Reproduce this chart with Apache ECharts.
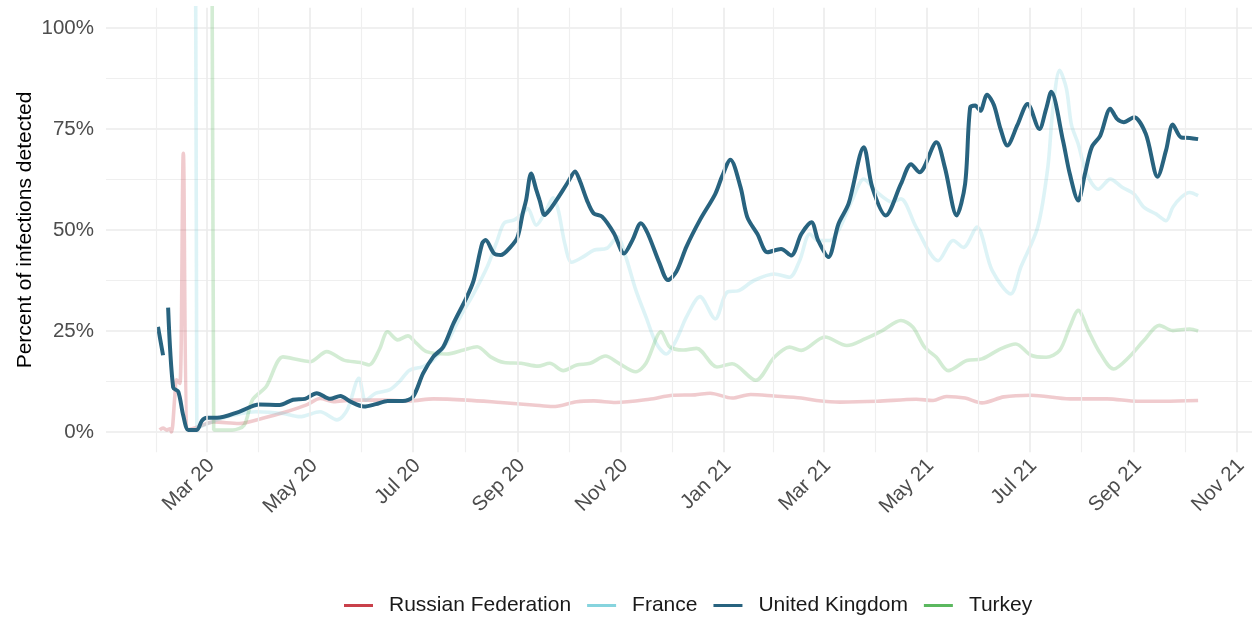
<!DOCTYPE html>
<html><head><meta charset="utf-8">
<script src="https://cdn.jsdelivr.net/npm/echarts@6/dist/echarts.min.js"></script>
<style>html,body{margin:0;padding:0;background:#fff}#chart{width:1252px;height:619px}</style>
</head><body><div id="chart"></div>
<script>
const seriesNames = ['Russian Federation', 'France', 'United Kingdom', 'Turkey'];
const seriesColors = ['#C9404A', '#86D4DE', '#28637F', '#5BB85F'];
const tickDates = ['2020-03-01','2020-05-01','2020-07-01','2020-09-01','2020-11-01','2021-01-01','2021-03-01','2021-05-01','2021-07-01','2021-09-01','2021-11-01'];
const tickLabels = ['Mar 20','May 20','Jul 20','Sep 20','Nov 20','Jan 21','Mar 21','May 21','Jul 21','Sep 21','Nov 21'];
const minorDates = ['2020-01-31','2020-03-31 12','2020-05-31 12','2020-08-01','2020-10-01 12','2020-12-01 12','2021-01-30 12','2021-03-31 12','2021-05-31 12','2021-08-01','2021-10-01 12'];

const russiaData = [['2020-02-02',0.5],['2020-02-04',1],['2020-02-06',0.5],['2020-02-08',0.8],['2020-02-09',0],['2020-02-11',9],['2020-02-12',12.9],['2020-02-14',12],['2020-02-16',69],['2020-02-19',0.5],['2020-02-25',1.3],['2020-03-05',2.5],['2020-03-20',2.1],['2020-04-03',3.4],['2020-04-17',5],['2020-04-29',6.7],['2020-05-07',8.3],['2020-05-15',7.5],['2020-05-25',7.9],['2020-06-13',7.9],['2020-06-29',7.7],['2020-07-13',8.2],['2020-08-02',7.9],['2020-08-22',7.3],['2020-09-10',6.7],['2020-09-22',6.3],['2020-10-06',7.5],['2020-10-16',7.7],['2020-10-29',7.3],['2020-11-18',8.1],['2020-12-02',9.1],['2020-12-15',9.2],['2020-12-24',9.6],['2021-01-06',8.4],['2021-01-17',9.3],['2021-01-31',8.9],['2021-02-16',8.4],['2021-02-25',7.8],['2021-03-11',7.4],['2021-04-02',7.6],['2021-04-25',8.1],['2021-05-05',7.8],['2021-05-13',8.8],['2021-05-24',8.4],['2021-06-03',7.2],['2021-06-16',8.7],['2021-07-02',9.1],['2021-07-25',8.2],['2021-08-16',8.2],['2021-09-03',7.6],['2021-09-19',7.6],['2021-10-09',7.8]];

const franceData = [['2020-02-19',200],['2020-02-23',150],['2020-02-24',1.3],['2020-02-27',1.5],['2020-03-07',3],['2020-03-17',4.2],['2020-03-30',5],['2020-04-15',4.6],['2020-04-25',3.8],['2020-05-07',5],['2020-05-17',3],['2020-05-23',5.4],['2020-05-30',13.3],['2020-06-03',7.9],['2020-06-09',9.6],['2020-06-17',10.4],['2020-06-23',12.5],['2020-06-29',15.3],['2020-07-07',16.2],['2020-07-13',17.8],['2020-07-21',22],['2020-07-29',28.5],['2020-08-06',34.3],['2020-08-14',40.9],['2020-08-20',47.5],['2020-08-24',51.7],['2020-08-30',52.5],['2020-09-04',54.1],['2020-09-07',55.3],['2020-09-12',51.2],['2020-09-18',55],['2020-09-22',58],['2020-09-25',55],['2020-09-29',46.5],['2020-10-03',42],['2020-10-10',43.4],['2020-10-16',45],['2020-10-24',45.5],['2020-10-30',48.3],['2020-11-04',43.4],['2020-11-10',35.1],['2020-11-16',28.5],['2020-11-22',22],['2020-11-28',19.3],['2020-12-04',22.8],['2020-12-10',28.5],['2020-12-18',33.5],['2020-12-27',28],['2021-01-03',34.6],['2021-01-10',35],['2021-01-19',37.5],['2021-01-31',39.1],['2021-02-09',38.3],['2021-02-15',42.4],['2021-02-21',49],['2021-02-26',47.4],['2021-03-05',47.4],['2021-03-11',50.7],['2021-03-18',57.3],['2021-03-25',62.6],['2021-04-02',59.3],['2021-04-11',56.9],['2021-04-16',57.7],['2021-04-25',50.7],['2021-05-08',42.4],['2021-05-17',47.4],['2021-05-23',45.7],['2021-05-31',50.7],['2021-06-09',40],['2021-06-20',34.2],['2021-06-26',40.8],['2021-07-06',50.7],['2021-07-12',65.5],['2021-07-15',80],['2021-07-19',89.5],['2021-07-23',85],['2021-07-26',76],['2021-07-30',71.3],['2021-08-04',63.9],['2021-08-11',60.1],['2021-08-18',62.6],['2021-08-25',60.6],['2021-09-01',58.9],['2021-09-07',55.6],['2021-09-14',54],['2021-09-20',52.3],['2021-09-24',55.6],['2021-09-29',58.1],['2021-10-04',59.3],['2021-10-09',58.5]];

const ukData = [['2020-02-01',26],['2020-02-04',19],['2020-02-06',null],['2020-02-07',30.8],['2020-02-10',11],['2020-02-13',10],['2020-02-16',4],['2020-02-19',0.5],['2020-02-24',0.5],['2020-02-27',2.8],['2020-03-01',3.5],['2020-03-07',3.5],['2020-03-20',5],['2020-04-01',6.8],['2020-04-13',6.7],['2020-04-21',8],['2020-04-28',8.2],['2020-05-05',9.6],['2020-05-13',8.2],['2020-05-19',8.9],['2020-05-25',7.5],['2020-06-02',6.3],['2020-06-09',6.9],['2020-06-16',7.7],['2020-06-25',7.7],['2020-07-01',8.7],['2020-07-07',14.5],['2020-07-13',18.6],['2020-07-19',21.1],['2020-07-25',26.9],['2020-08-02',33.5],['2020-08-06',37.6],['2020-08-11',46.7],['2020-08-13',47.5],['2020-08-18',44.2],['2020-08-22',43.8],['2020-08-28',45.9],['2020-09-01',48.3],['2020-09-04',54.1],['2020-09-06',57.4],['2020-09-09',64],['2020-09-12',60],['2020-09-14',57.4],['2020-09-17',53.7],['2020-09-20',55],['2020-09-24',57.4],['2020-09-28',60],['2020-10-01',62],['2020-10-05',64.5],['2020-10-08',62],['2020-10-12',57.4],['2020-10-16',54.1],['2020-10-21',53.3],['2020-10-28',49.2],['2020-11-03',44.2],['2020-11-08',47.5],['2020-11-13',51.7],['2020-11-17',49.2],['2020-11-24',41.8],['2020-11-29',37.6],['2020-12-04',39.7],['2020-12-10',45.9],['2020-12-18',52.5],['2020-12-27',58.9],['2020-12-31',63.2],['2021-01-05',67.4],['2021-01-11',60.6],['2021-01-15',53.2],['2021-01-21',49],['2021-01-27',44.5],['2021-02-04',45.3],['2021-02-10',43.7],['2021-02-16',49],['2021-02-22',51.9],['2021-02-26',47.4],['2021-03-04',43.3],['2021-03-10',51.5],['2021-03-16',56.5],['2021-03-25',70.5],['2021-03-30',60.6],['2021-04-07',53.6],['2021-04-16',61.4],['2021-04-22',66.3],['2021-04-27',64.3],['2021-05-07',71.7],['2021-05-12',65.5],['2021-05-19',53.6],['2021-05-24',61.4],['2021-05-27',80.3],['2021-05-30',80.8],['2021-06-02',79.5],['2021-06-06',83.5],['2021-06-10',81],['2021-06-14',75],['2021-06-18',70.9],['2021-06-24',76],['2021-06-30',81.2],['2021-07-07',75],['2021-07-11',80],['2021-07-14',84.2],['2021-07-21',72.1],['2021-07-25',63.9],['2021-07-30',57.3],['2021-08-03',63.9],['2021-08-07',70.5],['2021-08-12',73.3],['2021-08-18',80],['2021-08-22',77.5],['2021-08-26',76.7],['2021-09-01',77.9],['2021-09-08',73.8],['2021-09-15',63.2],['2021-09-20',69.7],['2021-09-24',76.1],['2021-09-29',72.9],['2021-10-04',72.8],['2021-10-09',72.5]];

const turkeyData = [['2020-03-04',200],['2020-03-05',0.5],['2020-03-16',0.5],['2020-03-23',1.7],['2020-03-28',8],['2020-04-05',11.2],['2020-04-15',18.6],['2020-04-25',17.8],['2020-05-01',17.4],['2020-05-11',19.9],['2020-05-21',17.8],['2020-05-31',17.2],['2020-06-05',16.6],['2020-06-11',20.3],['2020-06-16',24.8],['2020-06-22',22.8],['2020-06-28',23.8],['2020-07-03',22],['2020-07-09',19.9],['2020-07-21',19.3],['2020-07-31',20.3],['2020-08-08',21.1],['2020-08-16',18.6],['2020-08-24',17.2],['2020-09-03',17],['2020-09-13',16.3],['2020-09-20',17],['2020-09-28',15.2],['2020-10-06',16.6],['2020-10-14',17],['2020-10-23',18.8],['2020-10-31',17],['2020-11-10',14.9],['2020-11-16',17],['2020-11-25',24.8],['2020-11-30',21.1],['2020-12-08',20.3],['2020-12-16',20.7],['2020-12-28',16.1],['2021-01-06',16.9],['2021-01-20',12.8],['2021-01-31',18.5],['2021-02-09',21],['2021-02-16',20.2],['2021-03-02',23.5],['2021-03-15',21.4],['2021-03-26',23.1],['2021-04-05',25.1],['2021-04-16',27.6],['2021-04-23',26],['2021-04-30',21],['2021-05-07',18.5],['2021-05-14',15.2],['2021-05-25',17.7],['2021-06-03',18.1],['2021-06-14',20.6],['2021-06-23',21.8],['2021-07-02',19],['2021-07-11',18.5],['2021-07-19',20.2],['2021-07-25',26],['2021-07-30',30.1],['2021-08-05',25.1],['2021-08-11',20.2],['2021-08-20',15.6],['2021-08-29',18.5],['2021-09-07',22.7],['2021-09-16',26.4],['2021-09-24',25.1],['2021-10-04',25.5],['2021-10-09',25]];

function ts(s) {
  const parts = s.split(' ');
  const d = parts[0].split('-').map(Number);
  const h = parts[1] ? Number(parts[1]) : 0;
  return new Date(d[0], d[1] - 1, d[2], h).getTime();
}
const xMin = new Date(2020, 0, 1, 5).getTime();
const xMax = new Date(2021, 10, 9, 22).getTime();
const tickTs = tickDates.map(ts);
const FONT = 'Liberation Sans, Arial, sans-serif';

const gridLines = tickDates.map(d => ({ xAxis: ts(d), lineStyle: { color: '#EBEBEB', width: 1.6, type: 'solid' } }))
  .concat(minorDates.map(d => ({ xAxis: ts(d), lineStyle: { color: '#EFEFEF', width: 1.2, type: 'solid' } })));

const dataSets = [russiaData, franceData, ukData, turkeyData];
const alphas = [0.27, 0.28, 1, 0.27];
const widths = [3.6, 3.6, 4, 3.6];
const drawOrder = [0, 1, 3, 2];

const lineSeries = drawOrder.map(i => ({
  name: seriesNames[i],
  type: 'line',
  xAxisIndex: 1, yAxisIndex: 1,
  data: dataSets[i].map(p => [ts(p[0]), p[1]]),
  showSymbol: false, symbol: 'none',
  smooth: 0.3,
  connectNulls: false,
  clip: true,
  z: 3,
  itemStyle: { color: seriesColors[i] },
  lineStyle: { color: seriesColors[i], width: widths[i], opacity: alphas[i] }
}));

const option = {
  animation: false,
  backgroundColor: '#ffffff',
  textStyle: { fontFamily: FONT },
  grid: [
    { left: 106, right: 0, top: 28, height: 404 },
    { left: 106, right: 0, top: 7.8, height: 444.4 }
  ],
  xAxis: [
    { gridIndex: 0, type: 'value', min: xMin, max: xMax, show: false },
    { gridIndex: 1, type: 'value', min: xMin, max: xMax,
      axisLine: { show: false }, axisTick: { show: false }, splitLine: { show: false },
      axisLabel: {
        customValues: tickTs, rotate: 45, margin: 6, lineHeight: 12,
        color: '#4D4D4D', fontSize: 20.5, fontFamily: FONT,
        formatter: v => { const k = tickTs.indexOf(v); return k >= 0 ? '\n' + tickLabels[k] : ''; }
      }
    }
  ],
  yAxis: [
    { gridIndex: 0, type: 'value', min: 0, max: 100, interval: 25,
      axisLine: { show: false }, axisTick: { show: false },
      axisLabel: { formatter: '{value}%', margin: 12, color: '#4D4D4D', fontSize: 20.5, fontFamily: FONT },
      splitLine: { show: true, lineStyle: { color: '#EBEBEB', width: 1.6 } },
      minorTick: { show: false, splitNumber: 2 },
      minorSplitLine: { show: true, lineStyle: { color: '#EFEFEF', width: 1.2 } },
      name: 'Percent of infections detected', nameLocation: 'middle', nameGap: 70, nameMoveOverlap: false,
      nameTextStyle: { color: '#000000', fontSize: 21, fontFamily: FONT }
    },
    { gridIndex: 1, type: 'value', min: -5, max: 105, show: false }
  ],
  legend: {
    top: 595, left: 344, orient: 'horizontal', padding: 0,
    icon: 'rect', itemWidth: 29, itemHeight: 3, itemGap: 16,
    selectedMode: false,
    textStyle: { fontSize: 21, color: '#1A1A1A', fontFamily: FONT, padding: [0, 0, 0, 11] },
    data: seriesNames.map((n, i) => ({ name: n, itemStyle: { color: seriesColors[i], opacity: 1 } }))
  },
  series: [
    { type: 'line', xAxisIndex: 1, yAxisIndex: 1, data: [[xMin, -50]], symbol: 'none', silent: true, z: 1,
      lineStyle: { opacity: 0 },
      markLine: { silent: true, symbol: ['none', 'none'], label: { show: false }, animation: false, data: gridLines }
    }
  ].concat(lineSeries)
};

const chart = echarts.init(document.getElementById('chart'), null, { renderer: 'canvas' });
chart.setOption(option);
</script>
</body></html>
